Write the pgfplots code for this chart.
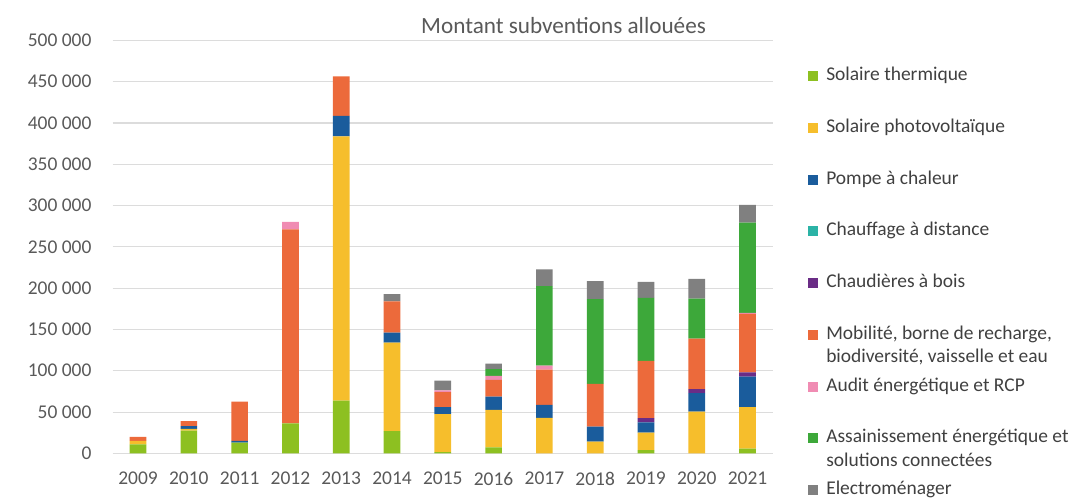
\documentclass[border=0pt]{standalone}
\usepackage{pgfplots}
\pgfplotsset{compat=1.18}
\usepackage{pgfplotstable}
\usepackage{fontspec}
\setmainfont{Carlito}
\definecolor{cST}{HTML}{8DC021}
\definecolor{cPV}{HTML}{F6BE2C}
\definecolor{cPAC}{HTML}{1A5C9C}
\definecolor{cCAD}{HTML}{2BB3A6}
\definecolor{cCB}{HTML}{6A2C86}
\definecolor{cMOB}{HTML}{EC6A3B}
\definecolor{cAUD}{HTML}{F08CB3}
\definecolor{cASS}{HTML}{3DA83A}
\definecolor{cEL}{HTML}{808080}
\definecolor{gridc}{HTML}{DCDCDC}
\definecolor{txt}{HTML}{595959}
\definecolor{legtxt}{HTML}{404040}

\pgfplotstableread{
x  ST     PV     PAC    CAD  CB    MOB    AUD   ASS    EL
0  11000  4000   0      0    0     5000   0     0      0
1  27500  2000   3600   0    0     5900   0     0      0
2  13000  0      2000   0    0     47600  0     0      0
3  36400  0      0      0    0     234700 9300  0      0
4  63900  319800 25000  0    0     47800  0     0      0
5  27000  107200 12100  0    0     37600  0     0      9000
6  1500   46000  8500   0    0     18200  2000  0      11700
7  7300   45300  16200  0    0     20200  4900  8100   6500
8  0      43000  15800  0    0     42500  4900  96300  20300
9  0      14200  18200  0    0     51800  0     102400 21900
10 4000   21000  12600  0    4900  69600  0     76100  19400
11 0      50500  22300  0    4900  61100  0     48600  23900
12 5600   50300  37100  0    4900  71100  1000  109300 21400
}\datatable

\begin{document}
\begin{tikzpicture}
\useasboundingbox (-84.5pt,-32.8pt) rectangle (733pt,340pt);
\begin{axis}[
  scale only axis,
  width=495.2pt, height=309.7pt,
  ybar stacked, bar width=12.5pt,
  xmin=-0.5, xmax=12.5,
  ymin=0, ymax=500000,
  ytick={0,50000,...,500000},
  xtick=data,
  xticklabels={2009,2010,2011,2012,2013,2014,2015,2016,2017,2018,2019,2020,2021},
  scaled y ticks=false,
  yticklabel={\pgfmathprintnumber[fixed,precision=0,1000 sep={\ },assume math mode=true]{\tick}},
  axis line style={draw=none},
  major tick length=0pt,
  ymajorgrids, grid style={color=gridc, line width=0.8pt},
  tick label style={font=\fontsize{14.6}{17.5}\selectfont, text=txt},
  yticklabel style={anchor=east, inner sep=0pt, xshift=-15.75pt},
  xticklabel style={anchor=north, inner sep=0pt, yshift=-13.8pt},
  title={Montant subventions allouées},
  title style={at={(0.683,0.997)}, anchor=base, yshift=0pt, inner sep=0pt, font=\fontsize{17.4}{21}\selectfont, text=txt},
  legend image code/.code={\fill[#1] (0pt,-3.75pt) rectangle (7.5pt,3.75pt);},
  legend cell align=left,
  legend style={at={(1.0531,0.9416)}, anchor=north west, draw=none, fill=none,
    inner sep=0pt, row sep=0pt,
    font=\fontsize{14.6}{17.5}\selectfont, text=legtxt,
    /tikz/every odd column/.append style={column sep=6pt},
    /tikz/every even column/.append style={nodes={anchor=base west, yshift=-3.4pt, text height=12pt, text depth=26.8pt, inner ysep=0pt, inner xsep=0pt}}},
]
\addplot[draw=none, fill=cST] table[x=x, y=ST] {\datatable};
\addlegendentry{Solaire thermique}
\addplot[draw=none, fill=cPV] table[x=x, y=PV] {\datatable};
\addlegendentry{Solaire photovoltaïque}
\addplot[draw=none, fill=cPAC] table[x=x, y=PAC] {\datatable};
\addlegendentry{Pompe à chaleur}
\addplot[draw=none, fill=cCAD] table[x=x, y=CAD] {\datatable};
\addlegendentry{Chauffage à distance}
\addplot[draw=none, fill=cCB] table[x=x, y=CB] {\datatable};
\addlegendentry{Chaudières à bois}
\addplot[draw=none, fill=cMOB] table[x=x, y=MOB] {\datatable};
\addlegendentry{\begin{tabular}[t]{@{}l@{}}Mobilité, borne de recharge,\\biodiversité, vaisselle et eau\end{tabular}}
\addplot[draw=none, fill=cAUD] table[x=x, y=AUD] {\datatable};
\addlegendentry{Audit énergétique et RCP}
\addplot[draw=none, fill=cASS] table[x=x, y=ASS] {\datatable};
\addlegendentry{\begin{tabular}[t]{@{}l@{}}Assainissement énergétique et\\solutions connectées\end{tabular}}
\addplot[draw=none, fill=cEL] table[x=x, y=EL] {\datatable};
\addlegendentry{Electroménager}
\end{axis}
\end{tikzpicture}
\end{document}
